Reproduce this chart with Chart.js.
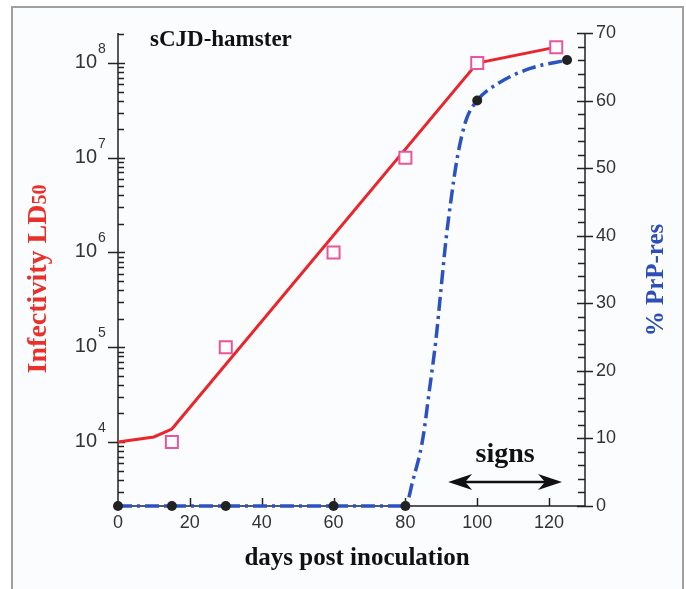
<!DOCTYPE html>
<html>
<head>
<meta charset="utf-8">
<script src="https://cdn.jsdelivr.net/npm/chart.js@4/dist/chart.umd.min.js"></script>
<style>
  html, body { margin: 0; padding: 0; background: #ffffff; }
  #wrap { width: 686px; height: 589px; }
</style>
</head>
<body>
<div id="wrap"><canvas id="chart" width="686" height="589"></canvas></div>
<script>
// measured infectivity (squares)
const infectivityDays = [15, 30, 60, 80, 100, 122];
const infectivityTiters = [1e4, 1e5, 1e6, 1e7, 1e8, 1.47e8];

// drawn infectivity curve (red line)
const fitDays = [0, 10, 15, 100, 122];
const fitTiters = [1e4, 1.13e4, 1.37e4, 1e8, 1.47e8];

// PrP-res measurements (black dots)
const prpDays = [0, 15, 30, 60, 80, 100, 125];
const prpPercent = [0, 0, 0, 0, 0, 60, 66];

// PrP-res curve (blue dash-dot)
const curveDays = [0, 80, 82, 84.8, 86.7, 88.5, 89.9, 91.3, 92.7, 94.5, 96.9, 100, 106, 115, 125];
const curvePercent = [0, 0, 3.6, 9.8, 17.2, 24.6, 32, 39.4, 45.3, 51.7, 57.1, 60, 62.6, 64.8, 66];

// tick labels
const xTicks = [0, 20, 40, 60, 80, 100, 120];
const rightTicks = [0, 10, 20, 30, 40, 50, 60, 70];
const leftExponents = [4, 5, 6, 7, 8];

// "signs" arrow, in data units (days, % PrP-res)
const signsFrom = 91.9;
const signsTo = 123.6;
const signsLevel = 3.55;

const SERIF = '"Liberation Serif", "Times New Roman", serif';
const SANS = '"Liberation Sans", Arial, sans-serif';

function pairs(xs, ys) {
    return xs.map((x, i) => ({ x: x, y: ys[i] }));
}

/**
 * Frame round the figure
 */
const framePlugin = {
    id: 'frame',
    beforeDraw(chart) {
        const c = chart.ctx;
        c.save();
        c.fillStyle = '#fbfcfe';
        c.fillRect(12, 7, 671, 600);
        c.strokeStyle = '#a0a0a0';
        c.lineWidth = 2;
        c.strokeRect(12, 7, 671, 600);
        c.restore();
    }
};

/**
 * Axis lines, ticks and labels
 */
const axesPlugin = {
    id: 'axes',
    beforeDatasetsDraw(chart) {
        const c = chart.ctx;
        const a = chart.chartArea;
        const sx = chart.scales.x;
        const sy = chart.scales.y;
        const sr = chart.scales.y1;
        c.save();
        c.strokeStyle = '#222';
        c.lineWidth = 1.5;

        // spines
        c.beginPath();
        c.moveTo(a.left, a.top);
        c.lineTo(a.left, a.bottom);
        c.lineTo(a.right, a.bottom);
        c.lineTo(a.right, a.top);
        c.stroke();

        // left log ticks
        c.beginPath();
        for (let d = 3; d <= 8; d++) {
            for (let m = 1; m <= 9; m++) {
                const v = m * Math.pow(10, d);
                if (v < sy.min || v > sy.max) continue;
                const py = Math.round(sy.getPixelForValue(v)) + 0.5;
                if (m === 1) {
                    c.moveTo(a.left - 10, py);
                    c.lineTo(a.left + 7, py);
                } else {
                    c.moveTo(a.left, py);
                    c.lineTo(a.left + 6, py);
                }
            }
        }
        // right ticks
        for (let v = 0; v <= 70; v += 2) {
            const py = Math.round(sr.getPixelForValue(v)) + 0.5;
            if (v % 10 === 0) {
                c.moveTo(a.right - 8, py);
                c.lineTo(a.right + 8, py);
            } else {
                c.moveTo(a.right - 7, py);
                c.lineTo(a.right, py);
            }
        }
        // x ticks
        xTicks.forEach(v => {
            if (v === 0) return;
            const px = Math.round(sx.getPixelForValue(v)) + 0.5;
            c.moveTo(px, a.bottom);
            c.lineTo(px, a.bottom - 8);
        });
        c.stroke();

        // tick labels
        c.fillStyle = '#333';
        c.font = '18px ' + SANS;
        c.textAlign = 'center';
        c.textBaseline = 'top';
        xTicks.forEach(v => {
            c.fillText(String(v), sx.getPixelForValue(v), a.bottom + 8);
        });
        c.textAlign = 'left';
        c.textBaseline = 'middle';
        rightTicks.forEach(v => {
            c.fillText(String(v), a.right + 11, sr.getPixelForValue(v));
        });
        leftExponents.forEach(e => {
            const py = sy.getPixelForValue(Math.pow(10, e));
            c.font = '20px ' + SANS;
            c.textAlign = 'right';
            c.textBaseline = 'alphabetic';
            c.fillText('10', a.left - 21, py + 5);
            c.font = '14px ' + SANS;
            c.textAlign = 'left';
            c.fillText(String(e), a.left - 20, py - 10);
        });

        // titles
        c.fillStyle = '#111';
        c.font = 'bold 23px ' + SERIF;
        c.textAlign = 'left';
        c.textBaseline = 'middle';
        c.fillText('sCJD-hamster', 150, 40);

        c.textAlign = 'center';
        c.font = 'bold 25px ' + SERIF;
        c.fillText('days post inoculation', 357, 559);

        // left title, LD50 with smaller 50
        c.save();
        c.translate(37, 279);
        c.rotate(-Math.PI / 2);
        c.fillStyle = '#e8312b';
        const big = 'bold 28px ' + SERIF;
        const small = 'bold 20px ' + SERIF;
        c.font = big;
        const w1 = c.measureText('Infectivity LD').width;
        c.font = small;
        const w2 = c.measureText('50').width;
        c.textAlign = 'left';
        c.textBaseline = 'alphabetic';
        c.font = big;
        c.fillText('Infectivity LD', -(w1 + w2) / 2, 9);
        c.font = small;
        c.fillText('50', -(w1 + w2) / 2 + w1, 9);
        c.restore();

        // right title
        c.save();
        c.translate(657, 280);
        c.rotate(-Math.PI / 2);
        c.fillStyle = '#2d4fb5';
        c.font = 'bold 25px ' + SERIF;
        c.textAlign = 'center';
        c.textBaseline = 'middle';
        c.fillText('% PrP-res', 0, 0);
        c.restore();

        c.restore();
    },
    afterDatasetsDraw(chart) {
        const c = chart.ctx;
        const sx = chart.scales.x;
        const sr = chart.scales.y1;
        const x1 = sx.getPixelForValue(signsFrom);
        const x2 = sx.getPixelForValue(signsTo);
        const y = sr.getPixelForValue(signsLevel);
        c.save();
        c.fillStyle = '#111';
        c.strokeStyle = '#111';
        c.lineWidth = 2.5;
        c.beginPath();
        c.moveTo(x1 + 12, y);
        c.lineTo(x2 - 12, y);
        c.stroke();
        // heads
        [[x1, 1], [x2, -1]].forEach(([tx, dir]) => {
            c.beginPath();
            c.moveTo(tx, y);
            c.lineTo(tx + dir * 24, y - 8);
            c.lineTo(tx + dir * 17, y);
            c.lineTo(tx + dir * 24, y + 8);
            c.closePath();
            c.fill();
        });
        c.font = 'bold 28px ' + SERIF;
        c.textAlign = 'center';
        c.textBaseline = 'middle';
        c.fillText('signs', (x1 + x2) / 2, y - 27);
        c.restore();
    }
};

const ctx = document.getElementById('chart');
const myChart = new Chart(ctx, {
    type: 'line',
    data: {
        datasets: [
            {
                label: 'infectivity curve',
                data: pairs(fitDays, fitTiters),
                yAxisID: 'y',
                borderColor: '#e8262c',
                borderWidth: 3,
                pointRadius: 0,
                tension: 0,
                clip: false,
                order: 4
            },
            {
                label: 'PrP-res curve',
                data: pairs(curveDays, curvePercent),
                yAxisID: 'y1',
                borderColor: '#2c52c2',
                borderWidth: 3.5,
                borderDash: [14, 5, 3, 5],
                pointRadius: 0,
                cubicInterpolationMode: 'monotone',
                clip: false,
                order: 3
            },
            {
                label: 'infectivity',
                data: pairs(infectivityDays, infectivityTiters),
                yAxisID: 'y',
                showLine: false,
                pointStyle: 'rect',
                pointRadius: 8.5,
                pointBorderWidth: 2,
                pointBorderColor: '#e9559b',
                pointBackgroundColor: '#fbfcfe',
                clip: false,
                order: 2
            },
            {
                label: 'PrP-res',
                data: pairs(prpDays, prpPercent),
                yAxisID: 'y1',
                showLine: false,
                pointStyle: 'circle',
                pointRadius: 5,
                pointBorderWidth: 0,
                pointBackgroundColor: '#222',
                clip: false,
                order: 1
            }
        ]
    },
    options: {
        responsive: false,
        animation: false,
        layout: { padding: { top: 33, left: 0, right: 0, bottom: 0 } },
        plugins: {
            legend: { display: false },
            tooltip: { enabled: false }
        },
        scales: {
            x: {
                type: 'linear',
                min: 0,
                max: 130,
                grid: { display: false },
                border: { display: false },
                ticks: { display: false },
                afterFit(s) { s.height = 83; }
            },
            y: {
                type: 'logarithmic',
                position: 'left',
                min: 2111,
                max: 2.073e8,
                grid: { display: false },
                border: { display: false },
                ticks: { display: false },
                afterFit(s) { s.width = 118; }
            },
            y1: {
                type: 'linear',
                position: 'right',
                min: 0,
                max: 70,
                grid: { display: false },
                border: { display: false },
                ticks: { display: false },
                afterFit(s) { s.width = 101; }
            }
        }
    },
    plugins: [framePlugin, axesPlugin]
});
</script>
</body>
</html>
